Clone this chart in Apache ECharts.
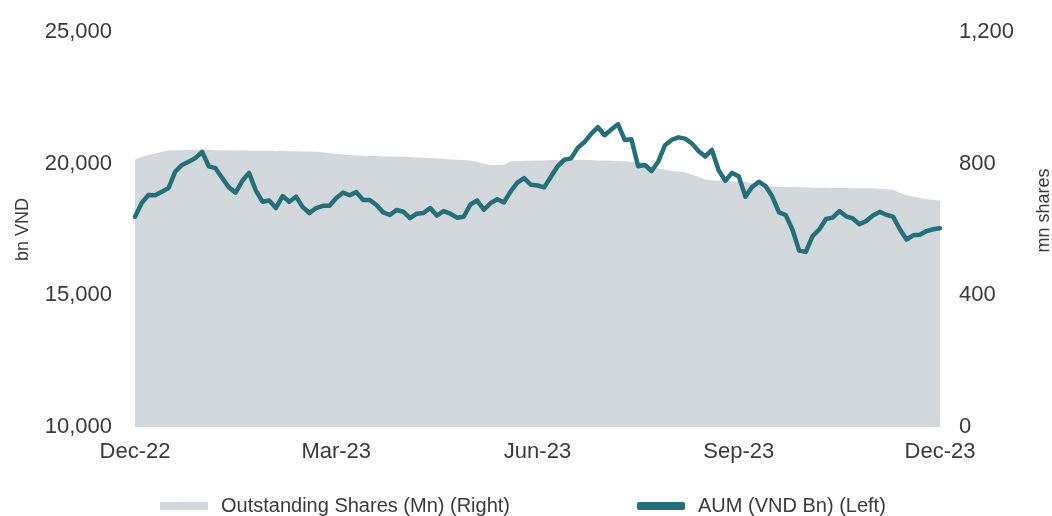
<!DOCTYPE html>
<html>
<head>
<meta charset="utf-8">
<script src="https://cdn.jsdelivr.net/npm/echarts@6/dist/echarts.min.js"></script>
<style>
html,body{margin:0;padding:0;background:#fff;}
#chart{width:1052px;height:516px;}
</style>
</head>
<body>
<div id="chart"></div>
<script>
// Observation dates: 121 evenly spaced points from 30-Dec-2022 to 31-Dec-2023
var startDate = new Date(Date.UTC(2022, 11, 30));
var categories = [];
for (var k = 0; k <= 120; k++) {
  var d = new Date(startDate.getTime() + Math.round(k * 366 / 120) * 86400000);
  categories.push(d.toISOString().slice(0, 10));
}

var tickIndex = [0, 30, 60, 90, 120];
var tickLabels = ['Dec-22', 'Mar-23', 'Jun-23', 'Sep-23', 'Dec-23'];

// AUM (VND bn), left axis
var aum = [
  17985, 18505, 18809, 18800, 18935, 19075, 19700, 19950, 20070, 20210,
  20450, 19900, 19830, 19455, 19100, 18900, 19350, 19650, 18990, 18555,
  18600, 18315, 18770, 18555, 18745, 18350, 18125, 18315, 18400, 18400,
  18695, 18900, 18800, 18920, 18620, 18620, 18430, 18150, 18050, 18240,
  18175, 17935, 18100, 18125, 18315, 18030, 18200, 18100, 17950, 17985,
  18450, 18600, 18250, 18500, 18650, 18530, 18950, 19280, 19450, 19200,
  19170, 19100, 19500, 19900, 20150, 20200, 20600, 20820, 21130, 21390,
  21080, 21300, 21500, 20900, 20930, 19900, 19950, 19720, 20075, 20700,
  20900, 21000, 20950, 20770, 20480, 20270, 20520, 19750, 19350, 19650,
  19520, 18745, 19120, 19315, 19150, 18750, 18150, 18050, 17500, 16700,
  16650, 17250, 17500, 17900, 17950, 18200, 18000, 17920, 17700, 17820,
  18030, 18170, 18060, 17990, 17520, 17120, 17280, 17300, 17440, 17510,
  17550
];

// Outstanding shares (mn), right axis
var shares = [
  813, 820, 826, 831, 836, 840, 841, 841, 842, 841,
  842, 842, 841, 841, 840, 841, 840, 840, 839, 840,
  839, 838, 839, 838, 838, 837, 837, 836, 835, 832,
  830, 828, 826, 825, 824, 823, 823, 822, 822, 821,
  821, 820, 819, 818, 817, 816, 815, 813, 812, 811,
  810, 806, 800, 796, 796, 797, 807, 808, 809, 809,
  810, 810, 811, 811, 811, 811, 811, 811, 811, 810,
  810, 809, 808, 807, 806, 806, 803, 790, 785, 782,
  778, 776, 774, 766, 760, 752, 750, 748, 747, 746,
  745, 744, 740, 736, 733, 731, 730, 729, 729, 728,
  728, 727, 727, 727, 726, 726, 726, 725, 725, 725,
  725, 724, 722, 720, 712, 705, 700, 696, 692, 690,
  688
];

var textColor = '#3a3a3a';
var fontFamily = 'Liberation Sans, Arial, sans-serif';

function fmt(v) { return v.toString().replace(/\B(?=(\d{3})+(?!\d))/g, ','); }

var chart = echarts.init(document.getElementById('chart'), null, {renderer: 'canvas'});
chart.setOption({
  animation: false,
  backgroundColor: '#ffffff',
  textStyle: {fontFamily: fontFamily, color: textColor},
  grid: {left: 135, right: 112, top: 32, bottom: 89, containLabel: false, outerBoundsMode: 'none'},
  legend: {
    left: 155,
    top: 491,
    itemGap: 127,
    itemWidth: 48,
    itemHeight: 8,
    textStyle: {fontSize: 20, color: textColor, fontFamily: fontFamily, padding: [0, 0, 0, 8]},
    data: [
      {name: 'Outstanding Shares (Mn) (Right)', icon: 'rect', itemStyle: {color: '#d3d8dd'}},
      {name: 'AUM (VND Bn) (Left)', icon: 'roundRect', itemStyle: {color: '#22707a'}}
    ]
  },
  xAxis: {
    type: 'category',
    data: categories,
    boundaryGap: false,
    axisLine: {show: false},
    axisTick: {show: false},
    splitLine: {show: false},
    axisLabel: {
      interval: function (i) { return tickIndex.indexOf(i) >= 0; },
      formatter: function (val, i) { var p = tickIndex.indexOf(i); return p >= 0 ? tickLabels[p] : ''; },
      fontSize: 22,
      color: textColor,
      margin: 14,
      showMinLabel: true,
      showMaxLabel: true
    }
  },
  yAxis: [
    {
      type: 'value',
      min: 10000, max: 25000, interval: 5000,
      name: 'bn VND',
      nameLocation: 'middle',
      nameRotate: 90,
      nameGap: 103,
      nameTextStyle: {fontSize: 18, color: textColor},
      axisLine: {show: false},
      axisTick: {show: false},
      splitLine: {show: false},
      axisLabel: {fontSize: 22, color: textColor, margin: 23, formatter: fmt}
    },
    {
      type: 'value',
      min: 0, max: 1200, interval: 400,
      name: 'mn shares',
      nameLocation: 'middle',
      nameRotate: 90,
      nameGap: 95,
      nameTextStyle: {fontSize: 18, color: textColor, padding: [0, 0, 0, 38]},
      axisLine: {show: false},
      axisTick: {show: false},
      splitLine: {show: false},
      axisLabel: {fontSize: 22, color: textColor, margin: 19, formatter: fmt}
    }
  ],
  series: [
    {
      name: 'Outstanding Shares (Mn) (Right)',
      type: 'line',
      yAxisIndex: 1,
      data: shares,
      showSymbol: false,
      symbol: 'none',
      lineStyle: {width: 0, color: '#d3d8dd'},
      itemStyle: {color: '#d3d8dd'},
      areaStyle: {color: '#d3d8dd', opacity: 1},
      z: 1
    },
    {
      name: 'AUM (VND Bn) (Left)',
      type: 'line',
      yAxisIndex: 0,
      data: aum,
      showSymbol: false,
      symbol: 'none',
      lineStyle: {width: 4.5, color: '#22707a', join: 'round', cap: 'round'},
      itemStyle: {color: '#22707a'},
      z: 3
    }
  ]
});
</script>
</body>
</html>
